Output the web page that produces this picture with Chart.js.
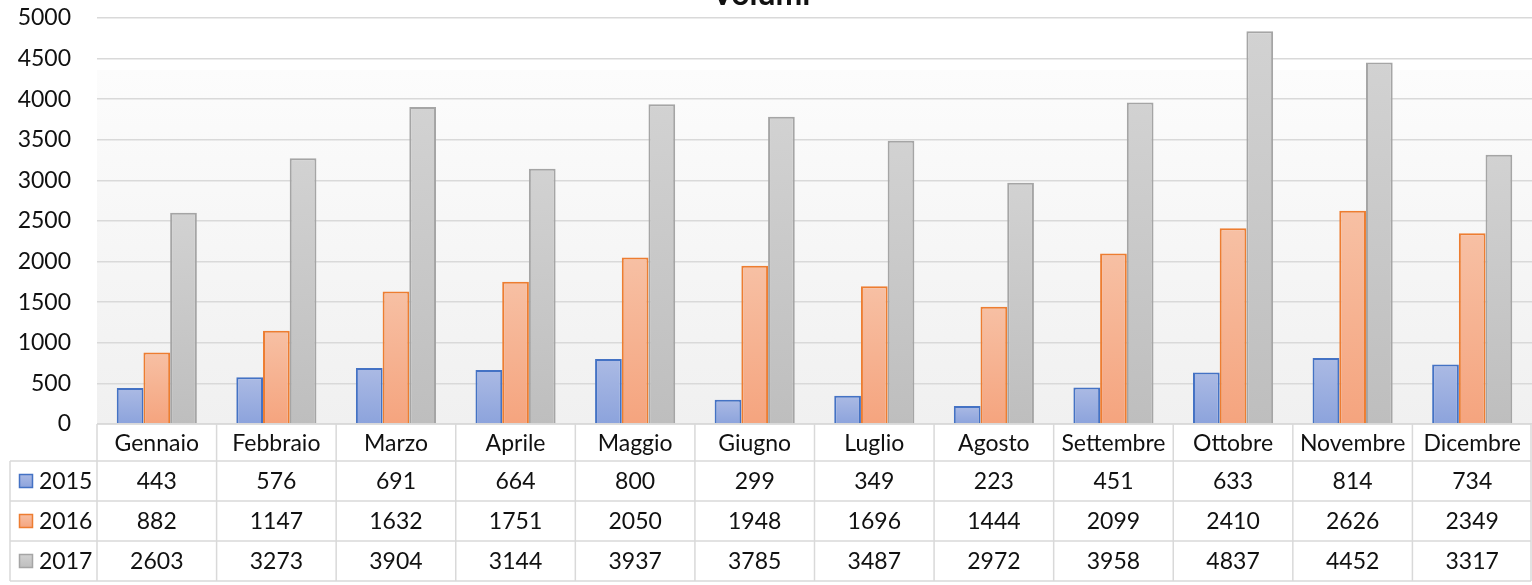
<!DOCTYPE html>
<html>
<head>
<meta charset="utf-8">
<script src="https://cdn.jsdelivr.net/npm/chart.js@4"></script>
<style>
  html, body { margin: 0; padding: 0; background: #fff; }
  #wrap { width: 1532px; height: 585px; position: relative; }
</style>
</head>
<body>
<div id="wrap"><canvas id="c" width="1532" height="585"></canvas></div>
<script>
// Volumi mensili per anno
const mesi = ['Gennaio', 'Febbraio', 'Marzo', 'Aprile', 'Maggio', 'Giugno', 'Luglio', 'Agosto', 'Settembre', 'Ottobre', 'Novembre', 'Dicembre'];
const anni = ['2015', '2016', '2017'];
const volumi2015 = [443, 576, 691, 664, 800, 299, 349, 223, 451, 633, 814, 734];
const volumi2016 = [882, 1147, 1632, 1751, 2050, 1948, 1696, 1444, 2099, 2410, 2626, 2349];
const volumi2017 = [2603, 3273, 3904, 3144, 3937, 3785, 3487, 2972, 3958, 4837, 4452, 3317];
const yTicks = [0, 500, 1000, 1500, 2000, 2500, 3000, 3500, 4000, 4500, 5000];

const FONT = 'Lato, "Open Sans", sans-serif';
const TEXT = '#111111';
const GRID = '#d9d9d9';

// series styling: border, gradient top, gradient bottom
const stili = [
  { border: '#4472c4', top: '#abbae4', bottom: '#8ca3dc' },
  { border: '#ed7d31', top: '#f7c0a4', bottom: '#f5a47e' },
  { border: '#a5a5a5', top: '#d2d2d2', bottom: '#bebebe' }
];

function barFill(i) {
  return (ctx) => {
    const chart = ctx.chart;
    const area = chart.chartArea;
    if (!area || ctx.type !== 'data') return stili[i].bottom;
    const y = chart.scales.y;
    const top = y.getPixelForValue(ctx.raw);
    const bottom = y.getPixelForValue(0);
    if (!(bottom > top)) return stili[i].bottom;
    const g = chart.ctx.createLinearGradient(0, top, 0, bottom);
    g.addColorStop(0, stili[i].top);
    g.addColorStop(1, stili[i].bottom);
    return g;
  };
}

const serie = [volumi2015, volumi2016, volumi2017];

// plot background + title + data table
const tabella = {
  id: 'tabella',
  beforeDraw(chart) {
    const { ctx, chartArea: a } = chart;
    ctx.save();
    const g = ctx.createLinearGradient(0, 70, 0, a.bottom);
    g.addColorStop(0, '#fcfcfc');
    g.addColorStop(1, '#f0f0f0');
    ctx.fillStyle = g;
    ctx.fillRect(a.left, 70, a.right - a.left, a.bottom - 70);
    ctx.restore();
  },
  afterDraw(chart) {
    const { ctx, chartArea: a, scales } = chart;
    const x = scales.x;
    const n = mesi.length;
    const colW = (a.right - a.left) / n;
    const rows = [a.bottom, a.bottom + 37, a.bottom + 77, a.bottom + 117, a.bottom + 157];
    const legLeft = 10;
    const right = a.right - 1;

    ctx.save();
    // title
    ctx.font = 'bold 32px ' + FONT;
    ctx.fillStyle = TEXT;
    ctx.textAlign = 'center';
    ctx.textBaseline = 'alphabetic';
    ctx.fillText('Volumi', 761, 5);

    // grid lines of the table
    ctx.strokeStyle = GRID;
    ctx.lineWidth = 1.5;
    ctx.beginPath();
    ctx.moveTo(a.left, rows[0]); ctx.lineTo(right, rows[0]);
    for (let r = 1; r < rows.length; r++) {
      ctx.moveTo(legLeft, rows[r]); ctx.lineTo(right, rows[r]);
    }
    for (let i = 0; i < n; i++) {
      const xl = x.getPixelForValue(i) - colW / 2;
      ctx.moveTo(xl, rows[0]); ctx.lineTo(xl, rows[4]);
    }
    ctx.moveTo(right, rows[0]); ctx.lineTo(right, rows[4]);
    ctx.moveTo(legLeft, rows[1]); ctx.lineTo(legLeft, rows[4]);
    ctx.stroke();

    // category row
    ctx.font = '23px ' + FONT;
    ctx.fillStyle = TEXT;
    ctx.textAlign = 'center';
    ctx.textBaseline = 'middle';
    mesi.forEach((m, i) => ctx.fillText(m, x.getPixelForValue(i), (rows[0] + rows[1]) / 2 + 1));

    // value rows with legend keys
    serie.forEach((vals, s) => {
      const cy = (rows[s + 1] + rows[s + 2]) / 2;
      ctx.textAlign = 'center';
      vals.forEach((v, i) => ctx.fillText(String(v), x.getPixelForValue(i), cy + 1));
      // legend key
      const st = stili[s];
      const kg = ctx.createLinearGradient(0, cy - 7, 0, cy + 7);
      kg.addColorStop(0, st.top);
      kg.addColorStop(1, st.bottom);
      ctx.fillStyle = kg;
      ctx.fillRect(19, cy - 7, 14, 14);
      ctx.strokeStyle = st.border;
      ctx.lineWidth = 1.5;
      ctx.strokeRect(19.5, cy - 6.5, 13, 13);
      ctx.fillStyle = TEXT;
      ctx.textAlign = 'left';
      ctx.fillText(anni[s], 39, cy + 1);
    });
    ctx.restore();
  }
};

new Chart(document.getElementById('c'), {
  type: 'bar',
  data: {
    labels: mesi,
    datasets: serie.map((vals, i) => ({
      label: anni[i],
      data: vals,
      backgroundColor: barFill(i),
      borderColor: stili[i].border,
      borderWidth: 2,
      borderSkipped: 'bottom',
      categoryPercentage: 0.67,
      barPercentage: 1.0
    }))
  },
  options: {
    responsive: false,
    animation: false,
    devicePixelRatio: 1,
    layout: { padding: { top: 18, right: 0, bottom: 161, left: 0 } },
    plugins: {
      legend: { display: false },
      title: { display: false },
      tooltip: { enabled: false }
    },
    scales: {
      x: { display: false },
      y: {
        min: 0,
        max: 5000,
        afterBuildTicks(scale) { scale.ticks = yTicks.map(v => ({ value: v })); },
        afterFit(scale) { scale.width = 97; },
        grid: { color: GRID, lineWidth: 1.5, drawTicks: true, tickLength: 26, tickColor: 'rgba(0,0,0,0)' },
        border: { display: false },
        ticks: {
          padding: 0,
          color: TEXT,
          font: { family: FONT, size: 23 },
          callback: (v) => String(v)
        }
      }
    }
  },
  plugins: [tabella]
});
</script>
</body>
</html>
